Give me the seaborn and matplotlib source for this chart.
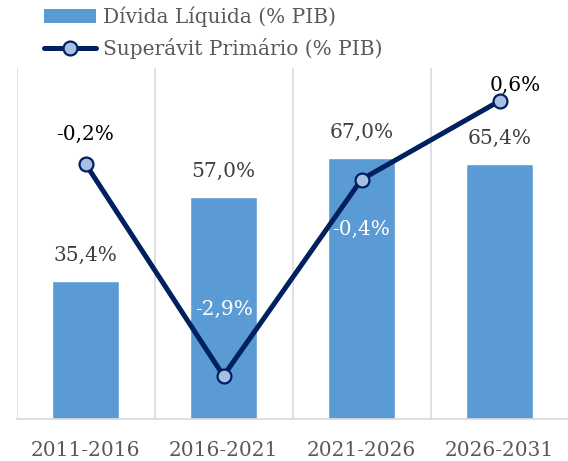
import matplotlib
matplotlib.use("Agg")
import matplotlib.pyplot as plt
import seaborn as sns
from matplotlib.patches import Patch
from matplotlib.lines import Line2D

# data
periods = ["2011-2016", "2016-2021", "2021-2026", "2026-2031"]
divida = [35.4, 57.0, 67.0, 65.4]
superavit = [-0.2, -2.9, -0.4, 0.6]

bar_color = "#5B9BD5"
line_color = "#002060"
marker_face = "#A9C0E6"
text_gray = "#595959"
fs = 14.5

sns.set_style("white")
plt.rcParams["font.family"] = ["DejaVu Serif"]

fig = plt.figure(figsize=(5.68, 4.61), dpi=100)
ax = fig.add_axes([16.5 / 568, 0.0911, 552 / 568, 0.7614])

sns.barplot(x=periods, y=divida, color=bar_color, width=0.48, saturation=1, ax=ax)
ax.set_ylim(0, 90)
ax.set_xlim(-0.5, 3.5)
ax.set_yticks([])
ax.set_xticks(range(len(periods)))
ax.set_xticklabels(periods, fontsize=fs, color=text_gray)
ax.tick_params(axis="x", length=0, pad=16)
ax.set_xticks([-0.5, 0.5, 1.5, 2.5, 3.5], minor=True)
ax.grid(True, which="minor", axis="x", color="#D9D9D9", linewidth=1.2)
ax.tick_params(axis="x", which="minor", length=0)
for s in ["top", "right", "left"]:
    ax.spines[s].set_visible(False)
ax.spines["bottom"].set_color("#D9D9D9")
ax.spines["bottom"].set_linewidth(1.2)

# bar value labels
for i, v in enumerate(divida):
    ax.annotate(f"{v:.1f}%".replace(".", ","), (i, v), xytext=(0, 18.5),
                textcoords="offset points", ha="center", va="center",
                fontsize=fs, color="#404040")

ax2 = ax.twinx()
sns.pointplot(x=periods, y=superavit, color=line_color, markers="o",
              linewidth=3.6, markersize=10, ax=ax2)
ln = ax2.lines[0]
ln.set_markerfacecolor(marker_face)
ln.set_markeredgecolor(line_color)
ln.set_markeredgewidth(1.6)
ax2.set_ylim(-3.45, 1.02)
ax2.set_xlim(-0.5, 3.5)
ax2.set_yticks([])
ax2.set_ylabel("")
for s in ["top", "right", "left", "bottom"]:
    ax2.spines[s].set_visible(False)

# line labels: (dx, dy) offsets in points, text color
offsets = [(0, 21, "black"), (0.7, 47.5, "white"),
           (0, -36, "white"), (11, 11.5, "black")]
for i, v in enumerate(superavit):
    dx, dy, c = offsets[i]
    ax2.annotate(f"{v:.1f}%".replace(".", ","), (i, v), xytext=(dx, dy),
                 textcoords="offset points", ha="center", va="center",
                 fontsize=fs, color=c)

handles = [Patch(facecolor=bar_color, edgecolor="none"),
           Line2D([0], [0], color=line_color, linewidth=3.6, marker="o",
                  markersize=10, markerfacecolor=marker_face,
                  markeredgecolor=line_color, markeredgewidth=1.6)]
labels = ["Dívida Líquida (% PIB)", "Superávit Primário (% PIB)"]
leg = fig.legend(handles, labels, loc="upper left", bbox_to_anchor=(44 / 568, 0.985),
                 frameon=False, fontsize=fs, handlelength=2.6, handletextpad=0.35,
                 labelspacing=0.55, borderaxespad=0, borderpad=0)
for t in leg.get_texts():
    t.set_color(text_gray)

fig.savefig("out.png", dpi=100)
